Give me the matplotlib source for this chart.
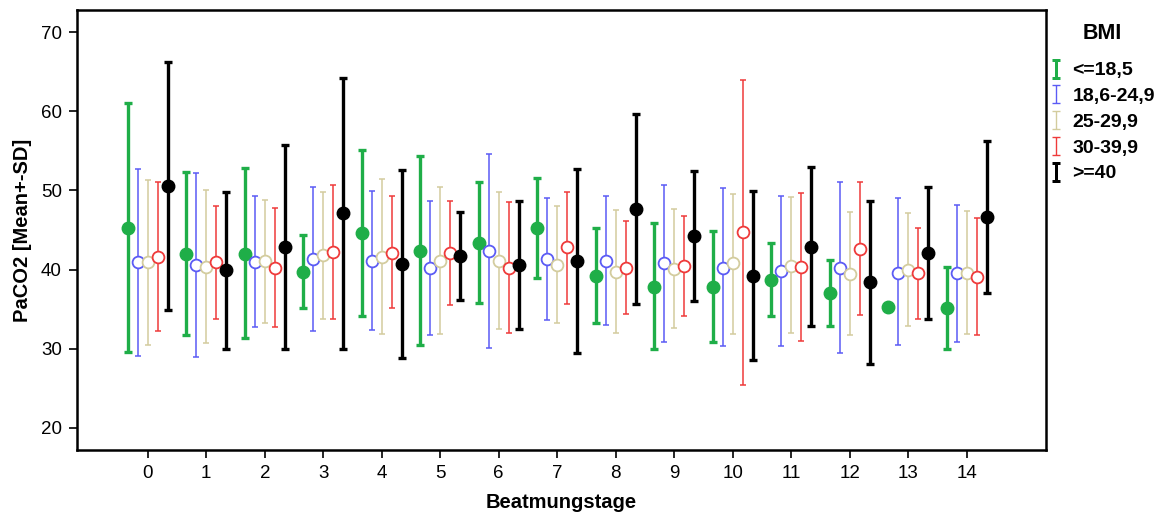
import numpy as np
import matplotlib.pyplot as plt
from matplotlib.path import Path
from matplotlib.lines import Line2D

plt.rcParams['font.family'] = ['Liberation Sans', 'DejaVu Sans']

days = list(range(15))
groups = ['<=18,5', '18,6-24,9', '25-29,9', '30-39,9', '>=40']

# mean, upper (mean+SD), lower (mean-SD) per BMI group, day 0..14
mean_u18 = [45.3, 42.0, 42.0, 39.7, 44.6, 42.4, 43.4, 45.2, 39.2, 37.8, 37.8, 38.7, 37.0, 35.3, 35.1]
top_u18 = [61.1, 52.3, 52.8, 44.3, 55.1, 54.4, 51.1, 51.5, 45.3, 45.9, 44.9, 43.4, 41.2, np.nan, 40.3]
bot_u18 = [29.6, 31.7, 31.3, 35.2, 34.1, 30.4, 35.8, 38.9, 33.2, 29.9, 30.8, 34.1, 32.8, np.nan, 29.9]

mean_norm = [40.9, 40.6, 41.0, 41.3, 41.1, 40.2, 42.3, 41.3, 41.1, 40.8, 40.2, 39.8, 40.2, 39.6, 39.5]
top_norm = [52.7, 52.2, 49.3, 50.4, 49.9, 48.7, 54.6, 49.0, 49.3, 50.7, 50.3, 49.3, 51.1, 49.0, 48.1]
bot_norm = [29.1, 29.0, 32.7, 32.2, 32.4, 31.7, 30.1, 33.6, 33.0, 30.9, 30.3, 30.3, 29.4, 30.4, 30.9]

mean_over = [40.9, 40.3, 41.1, 41.8, 41.6, 41.1, 41.1, 40.6, 39.7, 40.1, 40.8, 40.5, 39.4, 40.0, 39.5]
top_over = [51.3, 50.0, 48.8, 49.8, 51.4, 50.4, 49.8, 48.0, 47.5, 47.7, 49.6, 49.1, 47.3, 47.1, 47.4]
bot_over = [30.5, 30.7, 33.2, 33.7, 31.9, 31.9, 32.5, 33.2, 32.0, 32.6, 31.9, 32.0, 31.7, 32.8, 31.8]

mean_adip = [41.6, 40.9, 40.2, 42.2, 42.1, 42.1, 40.2, 42.8, 40.2, 40.5, 44.7, 40.3, 42.6, 39.5, 39.1]
top_adip = [51.0, 48.0, 47.8, 50.7, 49.3, 48.7, 48.5, 49.8, 46.1, 46.7, 64.0, 49.7, 51.1, 45.2, 46.5]
bot_adip = [32.2, 33.8, 32.7, 33.7, 35.1, 35.5, 32.0, 35.7, 34.4, 34.1, 25.4, 31.0, 34.2, 33.8, 31.7]

mean_ge40 = [50.6, 39.9, 42.9, 47.1, 40.7, 41.7, 40.6, 41.1, 47.7, 44.2, 39.2, 42.9, 38.4, 42.1, 46.6]
top_ge40 = [66.2, 49.8, 55.7, 64.2, 52.6, 47.3, 48.7, 52.7, 59.7, 52.5, 49.9, 53.0, 48.6, 50.4, 56.2]
bot_ge40 = [34.9, 30.0, 30.0, 29.9, 28.8, 36.2, 32.5, 29.4, 35.6, 36.0, 28.6, 32.8, 28.1, 33.8, 37.0]

means = [mean_u18, mean_norm, mean_over, mean_adip, mean_ge40]
tops = [top_u18, top_norm, top_over, top_adip, top_ge40]
bots = [bot_u18, bot_norm, bot_over, bot_adip, bot_ge40]

colors = ['#1fae48', '#5b5bf5', '#d3cc9e', '#ef3a3a', '#000000']
filled = [True, False, False, False, True]
offsets = [-0.34, -0.17, 0.0, 0.17, 0.34]

# I-beam marker for the legend
ibeam = Path([(0, -1), (0, 1), (-0.45, 1), (0.45, 1), (-0.45, -1), (0.45, -1)],
             [Path.MOVETO, Path.LINETO, Path.MOVETO, Path.LINETO, Path.MOVETO, Path.LINETO])

fig = plt.figure(figsize=(11.67, 5.22), dpi=100)
ax = fig.add_axes([0.066, 0.138, 0.830, 0.843])

x = np.array(days, dtype=float)
handles = []
for i in range(5):
    m = np.array(means[i])
    t = np.array(tops[i])
    b = np.array(bots[i])
    yerr = [m - b, t - m]
    lw = 2.4 if filled[i] else 1.1
    cap = 3 if filled[i] else 2
    ax.errorbar(x + offsets[i], m, yerr=yerr, fmt='none', ecolor=colors[i],
                elinewidth=lw, capsize=cap, capthick=lw, zorder=2)
    if filled[i]:
        ax.plot(x + offsets[i], m, 'o', color=colors[i], markersize=9, zorder=3, linestyle='none')
    else:
        ax.plot(x + offsets[i], m, 'o', markerfacecolor='white', markeredgecolor=colors[i],
                markersize=8.5, markeredgewidth=1.3, zorder=3, linestyle='none')
    handles.append(Line2D([], [], marker=ibeam, linestyle='none', markersize=13,
                          markeredgecolor=colors[i], markeredgewidth=lw * 0.9))

ax.set_xlim(-1.21, 15.35)
ax.set_ylim(17.2, 72.8)
ax.set_xticks(days)
ax.set_yticks([20, 30, 40, 50, 60, 70])
ax.tick_params(labelsize=13.5, length=6, width=1.2, pad=5)
for s in ax.spines.values():
    s.set_linewidth(1.8)
ax.set_xlabel('Beatmungstage', fontsize=14.5, fontweight='bold', labelpad=8)
ax.set_ylabel('PaCO2 [Mean+-SD]', fontsize=14.5, fontweight='bold', labelpad=6)

leg = fig.legend(handles, groups, loc='upper left', bbox_to_anchor=(0.884, 0.99),
                 frameon=False, title='BMI', handlelength=0.7, handletextpad=0.5,
                 labelspacing=0.42, prop={'size': 14, 'weight': 'bold'},
                 title_fontproperties={'size': 15.5, 'weight': 'bold'})
leg._legend_box.sep = 13

fig.savefig('out.png', dpi=100)
